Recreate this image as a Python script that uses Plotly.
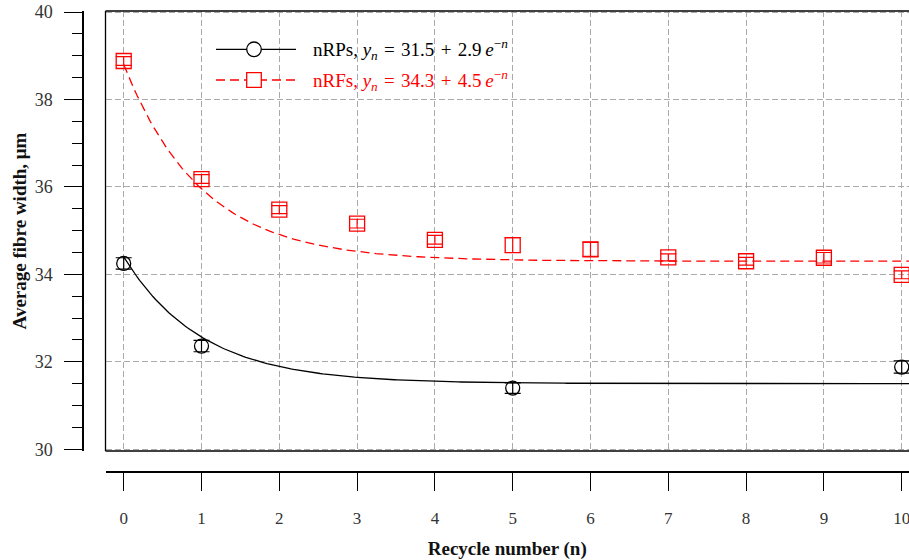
import numpy as np
import plotly.graph_objects as go

# ---- data ----
recycle_rp = [0, 1, 5, 10]
width_rp = [34.25, 32.36, 31.40, 31.88]
err_rp = [0.13, 0.13, 0.12, 0.14]

recycle_rf = [0, 1, 2, 3, 4, 5, 6, 7, 8, 9, 10]
width_rf = [38.88, 36.18, 35.48, 35.16, 34.79, 34.67, 34.57, 34.39, 34.30, 34.38, 33.99]
err_rf = [0.10, 0.10, 0.09, 0.10, 0.10, 0.17, 0.16, 0.08, 0.09, 0.12, 0.09]

fit_rp = (31.5, 2.9)   # y_n = a + b e^{-n}
fit_rf = (34.3, 4.5)

x_ticks = list(range(0, 11))
y_ticks = [30, 32, 34, 36, 38, 40]

W, H = 909, 560
ML, MR, MT, MB = 83, 0, 11, 88
PW, PH = W - ML - MR, H - MT - MB
BOX_L, BOX_B = 105.5, 451.0
xdom0 = (BOX_L - ML) / PW
ydom0 = ((H - MB) - BOX_B) / PH

SERIF = "Liberation Serif"
RED = "#ff0000"

n_fit = np.linspace(0, 10.2, 300)

fig = go.Figure()
fig.add_trace(go.Scatter(x=n_fit, y=fit_rp[0] + fit_rp[1] * np.exp(-n_fit), mode="lines",
                         line=dict(color="black", width=1.3), showlegend=False, hoverinfo="skip"))
fig.add_trace(go.Scatter(x=n_fit, y=fit_rf[0] + fit_rf[1] * np.exp(-n_fit), mode="lines",
                         line=dict(color=RED, width=1.3, dash="9px,5px"), showlegend=False, hoverinfo="skip"))
fig.add_trace(go.Scatter(x=recycle_rp, y=width_rp, mode="markers", name="nRPs",
                         marker=dict(symbol="circle-open", size=14, color="black", line=dict(width=1.3)),
                         error_y=dict(type="data", array=err_rp, color="black", thickness=1.2, width=8),
                         showlegend=False))
fig.add_trace(go.Scatter(x=recycle_rf, y=width_rf, mode="markers", name="nRFs",
                         marker=dict(symbol="square-open", size=15, color=RED, line=dict(width=1.3)),
                         error_y=dict(type="data", array=err_rf, color=RED, thickness=1.2, width=8),
                         showlegend=False))

# ---- plot frame (left, top, bottom) ----
for x0, y0, x1, y1 in [(0, 0, 0, 1), (0, 1, 1, 1), (0, 0, 1, 0)]:
    fig.add_shape(type="line", xref="x domain", yref="y domain", x0=x0, y0=y0, x1=x1, y1=y1,
                  line=dict(color="black", width=1.3), layer="above")

# ---- legend (drawn manually for long line samples) ----
def px(sx):
    return (sx - ML) / PW

def py(sy):
    return ((H - MB) - sy) / PH

SP = "\u2004"
legend_rows = [
    ("nRPs", fit_rp, "black", "solid", "circle", 49.3),
    ("nRFs", fit_rf, RED, "9px,5px", "rect", 80.0),
]
for name, (a, b), col, dash, shp, yrow in legend_rows:
    fig.add_shape(type="line", xref="paper", yref="paper", x0=px(216), x1=px(296), y0=py(yrow), y1=py(yrow),
                  line=dict(color=col, width=1.3, dash=dash))
    fig.add_shape(type=shp, xref="paper", yref="paper", xsizemode="pixel", ysizemode="pixel",
                  xanchor=px(254), yanchor=py(yrow), x0=-7.3, x1=7.3, y0=-7.3, y1=7.3,
                  line=dict(color=col, width=1.3), fillcolor="white")
    fig.add_annotation(xref="paper", yref="paper", x=px(311), y=py(yrow), xanchor="left", yanchor="middle",
                       showarrow=False,
                       text=(f"{name}, <i>y</i><sub><i>n</i></sub>{SP}={SP}{a}{SP}+{SP}{b}\u2009"
                             f"<i>e</i><sup>−<i>n</i></sup>"),
                       font=dict(family=SERIF, size=19, color=col))

fig.update_layout(
    width=W, height=H,
    margin=dict(l=ML, r=MR, t=MT, b=MB),
    paper_bgcolor="white", plot_bgcolor="white",
    showlegend=False,
    font=dict(family=SERIF, size=16, color="#333333"),
    xaxis=dict(
        domain=[xdom0, 1], anchor="free", position=0,
        range=[-0.234, 10.094],
        tickmode="array", tickvals=x_ticks, ticktext=[str(v) for v in x_ticks],
        ticks="outside", ticklen=18, tickwidth=1.3, tickcolor="black",
        showline=True, linecolor="black", linewidth=1.5,
        showgrid=True, gridcolor="#aaaaaa", gridwidth=1, griddash="6px,3px",
        zeroline=False, ticklabelstandoff=13, ticklabeloverflow="allow",
        tickfont=dict(family=SERIF, size=17, color="#333333"),
        title=dict(text="Recycle number (n)", standoff=16,
                   font=dict(family=SERIF, size=19, color="#111111", weight="bold")),
        automargin=False,
    ),
    yaxis=dict(
        domain=[ydom0, 1], anchor="free", position=0,
        range=[29.96, 40.023],
        tickmode="array", tickvals=y_ticks, ticktext=[str(v) for v in y_ticks],
        ticks="outside", ticklen=18, tickwidth=1.3, tickcolor="black",
        minor=dict(ticks="outside", ticklen=10, tickwidth=1.3, tickcolor="black", dtick=0.5, showgrid=False),
        showline=True, linecolor="black", linewidth=1.5,
        showgrid=True, gridcolor="#aaaaaa", gridwidth=1, griddash="6px,3px",
        zeroline=False, ticklabelstandoff=8, ticklabeloverflow="allow",
        tickfont=dict(family=SERIF, size=18, color="#333333"),
        title=dict(text="Average fibre width, μm", standoff=2,
                   font=dict(family=SERIF, size=19, color="#111111", weight="bold")),
        automargin=False,
    ),
)

fig.write_html("out.html", config={"displayModeBar": False},
               post_script="document.body.style.margin='0';")
